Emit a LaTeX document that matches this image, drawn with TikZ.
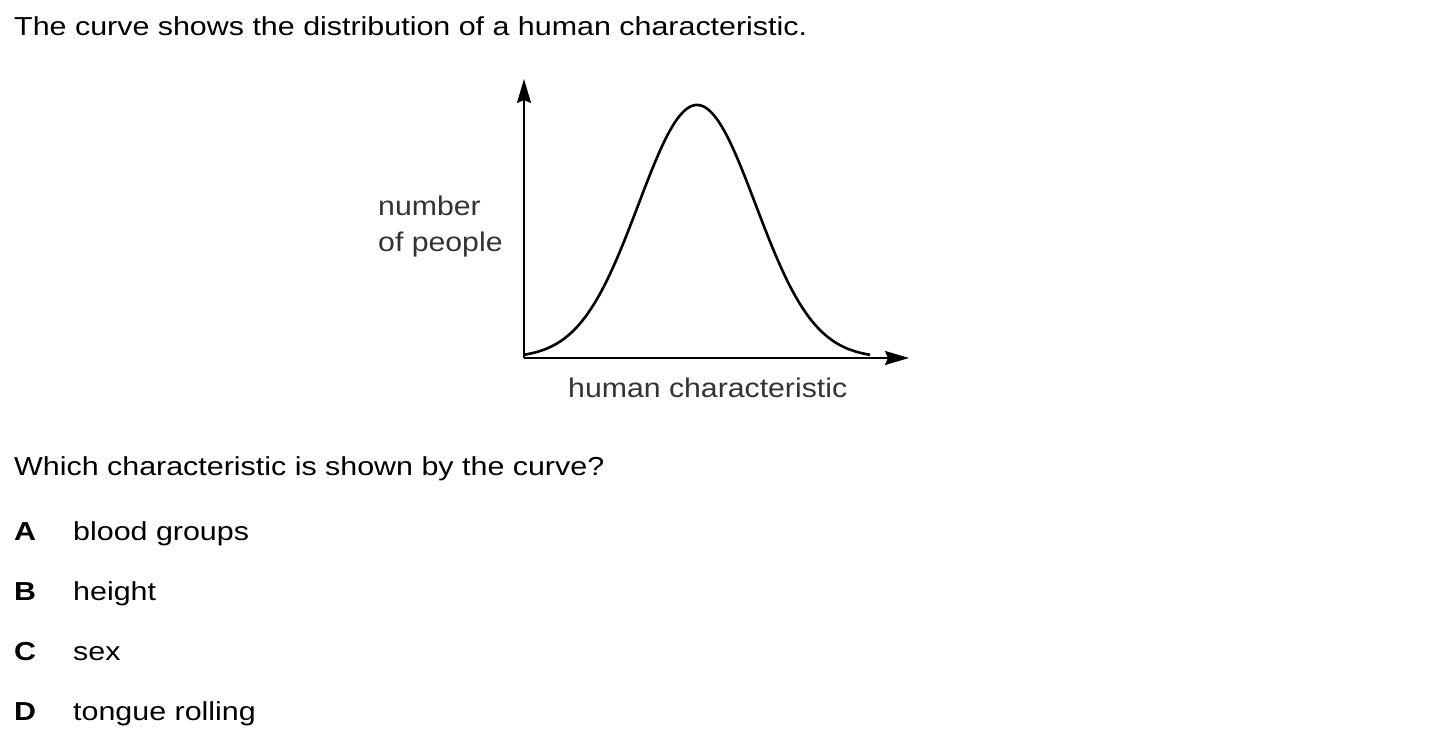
\documentclass[tikz,border=0pt]{standalone}
\usepackage{fontspec}
\setmainfont{Liberation Sans}
\newfontfamily\qfont[FakeStretch=1.17]{Liberation Sans}
\newfontfamily\gfont[FakeStretch=1.12]{Liberation Sans}
\usetikzlibrary{arrows.meta}
\begin{document}
\begin{tikzpicture}[x=1pt,y=-1pt,line join=round,>={Stealth[length=24pt,width=14pt,inset=3pt]}]
		\tikzset{question/.style={anchor=base west,inner sep=0pt,font=\qfont\fontsize{26}{30}\selectfont},
			axis label/.style={anchor=base west,inner sep=0pt,text=black!80,font=\gfont\fontsize{27}{31}\selectfont}}
		\useasboundingbox (0,0) rectangle (1435,747);
		\node[question] (title) at (14,35) {The curve shows the distribution of a human characteristic.};
		% graph
		\coordinate (O) at (524,358);
		\coordinate (ytip) at (524,79);
		\coordinate (xtip) at (909,358);
		\draw[line width=2pt,->] (O)--(ytip);
		\draw[line width=2pt,->] (O)--(xtip);
		\draw[line width=2.6pt,samples=150,domain=524:870,smooth,variable=\x] plot (\x,{358-253*exp(-0.5*((\x-697)/58.6)^2)});
		\node[axis label] (ylab1) at (378,215) {number};
		\node[axis label] (ylab2) at (378,251) {of people};
		\node[axis label] (xlab) at (568,397) {human characteristic};
		% question
		\node[question] (ask) at (14,475) {Which characteristic is shown by the curve?};
		\foreach \k/\ans [count=\i] in {A/blood groups,B/height,C/sex,D/tongue rolling}{
			\node[question,font=\qfont\bfseries\fontsize{26}{30}\selectfont] (key\i) at (14,480+60*\i) {\k};
			\node[question] (ans\i) at (73,480+60*\i) {\ans};
		}
\end{tikzpicture}
\end{document}
